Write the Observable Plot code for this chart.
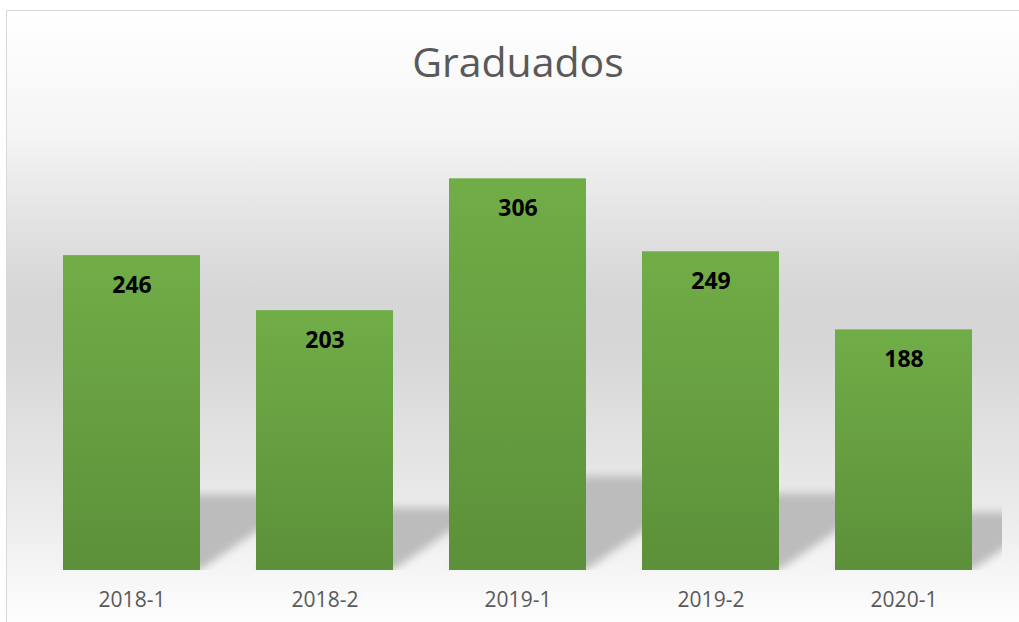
<!DOCTYPE html>
<html>
<head>
<meta charset="utf-8">
<script src="https://cdn.jsdelivr.net/npm/d3@7"></script>
<script src="https://cdn.jsdelivr.net/npm/@observablehq/plot@0.6"></script>
<style>
  html, body { margin: 0; padding: 0; background: #ffffff; overflow: hidden; }
  #page { position: relative; width: 1019px; height: 622px; overflow: hidden; }
  #frame {
    position: absolute; left: 6px; top: 10px; width: 1013px; height: 612px;
    border-left: 1.5px solid #d9d9d9; border-top: 1px solid #d9d9d9;
    background: linear-gradient(to bottom,
      #ffffff 0%, #f5f5f5 20%, #e2e2e2 35%, #d6d6d6 46%, #d6d6d6 55%,
      #e2e2e2 70%, #ebebeb 82%, #f6f6f6 92%, #fdfdfd 100%);
  }
  #title {
    position: absolute; left: 18px; top: 41px; width: 1000px; text-align: center;
    font-family: "Open Sans", sans-serif; font-size: 41px; line-height: 1;
    color: #595959;
  }
  #chart { position: absolute; left: 0; top: 100px; }
  #chart svg { background: transparent; overflow: visible; }
</style>
</head>
<body>
<div id="page">
  <div id="frame"></div>
  <div id="title">Graduados</div>
  <div id="chart"></div>
</div>
<script>
// ---- data ----
const periods = ["2018-1", "2018-2", "2019-1", "2019-2", "2020-1"];
const graduados = [246, 203, 306, 249, 188];

const data = periods.map((p, i) => ({periodo: p, graduados: graduados[i]}));

const defs = () => {
  const ns = "http://www.w3.org/2000/svg";
  const d = document.createElementNS(ns, "defs");
  d.innerHTML = `
    <linearGradient id="barGrad" x1="0" y1="0" x2="0" y2="1">
      <stop offset="0%" stop-color="#71ad47"/>
      <stop offset="100%" stop-color="#5c903a"/>
    </linearGradient>
    <filter id="shadowBlur" x="-30%" y="-60%" width="160%" height="220%">
      <feGaussianBlur stdDeviation="4"/>
    </filter>
    <clipPath id="shadowClip"><rect x="0" y="0" width="1002" height="470"/></clipPath>`;
  return d;
};

const chart = Plot.plot({
  width: 1019,
  height: 522,
  marginTop: 22,
  marginBottom: 52,
  marginLeft: 35,
  marginRight: 19,
  style: {background: "transparent", color: "#595959", fontFamily: "'Open Sans', sans-serif"},
  x: {domain: periods, paddingInner: 0.29, paddingOuter: 0.145, label: null},
  y: {domain: [0, 350], axis: null},
  marks: [
    defs,
    Plot.barY(data, {x: "periodo", y: "graduados", fill: "#bcbcbc"}),
    Plot.barY(data, {x: "periodo", y: "graduados", fill: "url(#barGrad)"}),
    Plot.text(data, {x: "periodo", y: "graduados", text: d => String(d.graduados),
      dy: 30, fontSize: 23, fontWeight: "bold", fill: "#000000"}),
    Plot.axisX({tickSize: 0, tickPadding: 22, fontSize: 21, fill: "#595959", label: null})
  ]
});

document.getElementById("chart").appendChild(chart);

// perspective shadow: squash & skew the first bar group about the baseline
const y0 = chart.scale("y").apply(0);
const shadow = chart.querySelectorAll('g[aria-label="bar"]')[0];
if (shadow) {
  const ns = "http://www.w3.org/2000/svg";
  const wrap = document.createElementNS(ns, "g");
  wrap.setAttribute("clip-path", "url(#shadowClip)");
  const blur = document.createElementNS(ns, "g");
  blur.setAttribute("filter", "url(#shadowBlur)");
  shadow.parentNode.insertBefore(wrap, shadow);
  wrap.appendChild(blur);
  blur.appendChild(shadow);
  shadow.setAttribute("transform", `translate(0,${y0}) matrix(1,0,-0.35,0.24,0,0) translate(0,${-y0})`);
}
</script>
</body>
</html>
